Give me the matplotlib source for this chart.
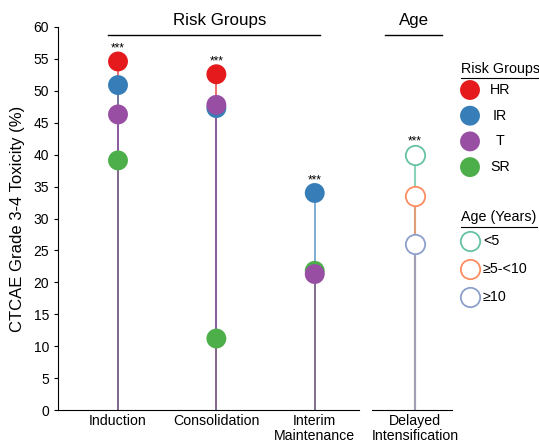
import matplotlib.pyplot as plt

plt.rcParams['font.family'] = ['Liberation Sans', 'DejaVu Sans']

phases = ["Induction", "Consolidation", "Interim\nMaintenance"]
risk_groups = ["HR", "IR", "T", "SR"]
risk_colors = ["#E41A1C", "#377EB8", "#984EA3", "#4DAF4A"]
risk_values = {
    "HR": [54.6, 52.6, None],
    "IR": [50.9, 47.3, 34.0],
    "T": [46.3, 47.8, 21.3],
    "SR": [39.1, 11.2, 21.8],
}

age_phase = "Delayed\nIntensification"
age_groups = ["<5", "\u22655-<10", "\u226510"]
age_colors = ["#66C2A5", "#FC8D62", "#8DA0CB"]
age_values = [40.0, 33.6, 26.0]

W, H = 539, 443
fig = plt.figure(figsize=(W / 100, H / 100), dpi=100)

def box(x0, y0, x1, y1):
    return [x0 / W, 1 - y1 / H, (x1 - x0) / W, (y1 - y0) / H]

ax = fig.add_axes(box(58, 27, 359, 410))
ax2 = fig.add_axes(box(372, 27, 452, 410), sharey=ax)

msize = 205
draw_order = ["HR", "IR", "SR", "T"]

# stems first, then dots on top
for g in draw_order:
    c = risk_colors[risk_groups.index(g)]
    for i, v in enumerate(risk_values[g]):
        if v is not None:
            ax.plot([i, i], [0, v], color=c, lw=1.2, alpha=0.75, zorder=1)
for g in draw_order:
    c = risk_colors[risk_groups.index(g)]
    for i, v in enumerate(risk_values[g]):
        if v is not None:
            ax.scatter(i, v, s=msize, color=c, edgecolors="none", zorder=3)

for i in range(len(phases)):
    top = max(risk_values[g][i] for g in risk_groups if risk_values[g][i] is not None)
    ax.text(i, top + 1.1, "***", ha="center", va="bottom", fontsize=8.5)

for c, v in zip(age_colors, age_values):
    ax2.plot([0, 0], [0, v], color=c, lw=1.5, alpha=0.75, zorder=1)
for c, v in zip(age_colors, age_values):
    ax2.scatter(0, v, s=msize * 0.95, facecolors="white", edgecolors=c,
                linewidths=1.3, zorder=3)
ax2.text(0, max(age_values) + 1.1, "***", ha="center", va="bottom", fontsize=8.5)

ax.set_ylim(0, 60)
ax.set_yticks(range(0, 61, 5))
ax.set_xlim(-0.61, 2.45)
ax.set_xticks(range(len(phases)))
ax.set_xticklabels(phases, fontsize=10.2, linespacing=1.08)
ax.tick_params(axis="x", length=0, pad=3)
ax.tick_params(axis="y", labelsize=10, length=3, width=0.8)
ax.set_ylabel("CTCAE Grade 3-4 Toxicity (%)", fontsize=12, labelpad=6)
for s in ["top", "right"]:
    ax.spines[s].set_visible(False)

ax2.set_xlim(-43 / 80, 37 / 80)
ax2.set_xticks([0])
ax2.set_xticklabels([age_phase], fontsize=10.2, linespacing=1.08)
ax2.tick_params(axis="x", length=0, pad=3)
ax2.tick_params(axis="y", left=False, labelleft=False)
for s in ["top", "right", "left"]:
    ax2.spines[s].set_visible(False)

# group headers with rules
overlay = fig.add_axes([0, 0, 1, 1], facecolor="none")
overlay.set_xlim(0, W)
overlay.set_ylim(H, 0)
overlay.axis("off")
overlay.text(220, 20, "Risk Groups", ha="center", va="center", fontsize=12.2)
overlay.plot([108, 320], [35, 35], color="black", lw=1)
overlay.text(414, 20, "Age", ha="center", va="center", fontsize=12.2)
overlay.plot([385, 442], [35, 35], color="black", lw=1)

# legends
overlay.text(461, 69, "Risk Groups", ha="left", va="center", fontsize=10.3)
overlay.plot([461, 539], [78, 78], color="black", lw=0.8)
for k, (g, c) in enumerate(zip(risk_groups, risk_colors)):
    y = 90 + k * 25.7
    overlay.scatter(470, y, s=msize, color=c, edgecolors="none")
    overlay.text(500, y, g, ha="center", va="center", fontsize=10.3)

overlay.text(461, 217, "Age (Years)", ha="left", va="center", fontsize=10.3)
overlay.plot([461, 537], [227, 227], color="black", lw=0.8)
for k, (g, c) in enumerate(zip(age_groups, age_colors)):
    y = 241 + k * 28
    overlay.scatter(470, y, s=msize * 0.95, facecolors="white", edgecolors=c, linewidths=1.3)
    overlay.text(483, y, g, ha="left", va="center", fontsize=10.3)

fig.savefig("out.png", dpi=100)
